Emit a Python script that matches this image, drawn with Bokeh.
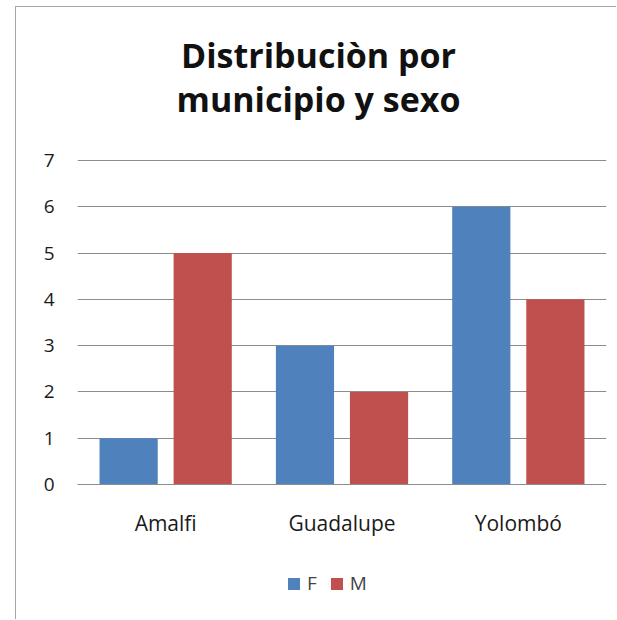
from bokeh.plotting import figure
from bokeh.models import (ColumnDataSource, FactorRange, Range1d, Legend, LegendItem,
                          Label, FixedTicker, CategoricalAxis)
from bokeh.transform import dodge
from bokeh.embed import file_html
from bokeh.resources import INLINE

municipios = ["Amalfi", "Guadalupe", "Yolombó"]
femenino = [1, 3, 6]
masculino = [5, 2, 4]
y_ticks = [0, 1, 2, 3, 4, 5, 6, 7]
title_lines = ["Distribuciòn por", "municipio y sexo"]

BLUE = "#4F81BD"
RED = "#C0504D"
GRID = "#8c8c8c"
FONT = "Open Sans"

# layout (pixels)
FRAME_W, FRAME_H = 529, 602
PLOT_H = 324          # pixel height of the 0..7 value span
TOP_PAD = 153         # pixels above the value 7 (room for the title)
Y_MAX_VAL = 7
px_per_unit = PLOT_H / Y_MAX_VAL
y_max = Y_MAX_VAL + TOP_PAD / px_per_unit
y_min = y_max - FRAME_H / px_per_unit

src = ColumnDataSource(dict(mun=municipios, F=femenino, M=masculino))

p = figure(x_range=FactorRange(*municipios, range_padding=0),
           y_range=Range1d(y_min, y_max),
           frame_width=FRAME_W, frame_height=FRAME_H,
           x_axis_location=None,
           output_backend="svg", toolbar_location=None,
           min_border_left=61, min_border_right=10,
           min_border_top=0, min_border_bottom=10)
p.styles = {"margin-left": "15px", "margin-top": "6px",
            "border-left": "1px solid #a6a6a6", "border-top": "1px solid #a6a6a6"}
p.outline_line_color = None
p.background_fill_color = "white"
p.border_fill_color = "white"

rf = p.vbar(x=dodge("mun", -0.21, range=p.x_range), top="F", width=0.33,
            source=src, fill_color=BLUE, line_color=None)
rm = p.vbar(x=dodge("mun", 0.21, range=p.x_range), top="M", width=0.33,
            source=src, fill_color=RED, line_color=None)

# grid
p.xgrid.grid_line_color = None
p.ygrid.grid_line_color = GRID
p.ygrid.grid_line_width = 1
p.yaxis.ticker = FixedTicker(ticks=y_ticks)

# y axis
p.yaxis.axis_line_color = None
p.yaxis.major_tick_line_color = None
p.yaxis.minor_tick_line_color = None
p.yaxis.major_tick_out = 0
p.yaxis.major_tick_in = 0
p.yaxis.major_label_standoff = 23
p.yaxis.major_label_text_font = FONT
p.yaxis.major_label_text_font_size = "19px"
p.yaxis.major_label_text_color = "#1a1a1a"

# x axis at value 0
xaxis = CategoricalAxis(fixed_location=0)
xaxis.axis_line_color = GRID
xaxis.major_tick_line_color = None
xaxis.minor_tick_line_color = None
xaxis.major_tick_out = 0
xaxis.major_tick_in = 0
xaxis.major_label_standoff = 24
xaxis.major_label_text_font = FONT
xaxis.major_label_text_font_size = "21px"
xaxis.major_label_text_color = "#1a1a1a"
p.add_layout(xaxis, "below")

# title (frame-relative screen coordinates)
for line, yy in zip(title_lines, [555, 511]):
    p.add_layout(Label(x=241, y=yy, x_units="screen", y_units="screen", text=line,
                       text_font=FONT, text_font_style="bold", text_font_size="34px",
                       text_align="center", text_baseline="alphabetic", text_color="#111111"))

legend = Legend(items=[LegendItem(label="F", renderers=[rf]),
                       LegendItem(label="M", renderers=[rm])],
                orientation="horizontal", location=(209, 13),
                padding=0, margin=0, spacing=12, label_standoff=6, label_width=0,
                glyph_width=15, glyph_height=15, label_height=15,
                label_text_font=FONT, label_text_font_size="19px",
                background_fill_alpha=0, border_line_color=None)
p.add_layout(legend, "center")

open("out.html", "w").write(file_html(p, INLINE))
